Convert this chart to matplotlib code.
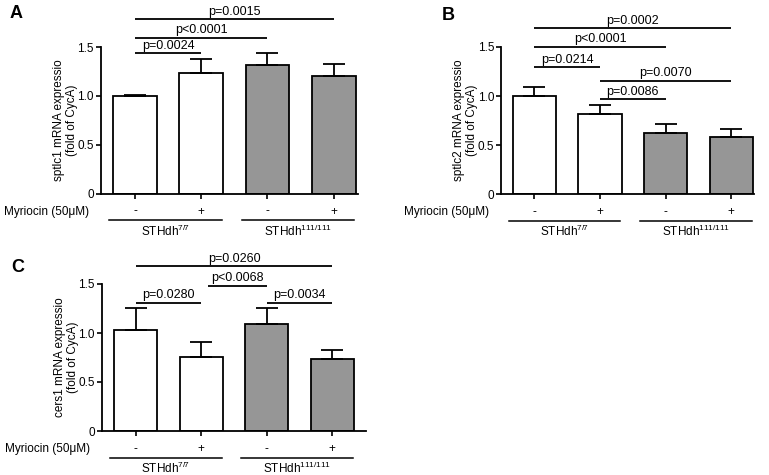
import matplotlib
matplotlib.use("Agg")
import matplotlib.pyplot as plt
import matplotlib.transforms as mtransforms

plt.rcParams['font.family'] = ['Liberation Sans', 'DejaVu Sans']
plt.rcParams['mathtext.fontset'] = 'custom'
plt.rcParams['mathtext.rm'] = 'Liberation Sans'
plt.rcParams['mathtext.it'] = 'Liberation Sans:italic'

# ---------------- data ----------------
myriocin = ['-', '+', '-', '+']
groups = [r'STHdh$^{\mathregular{7/7}}$', r'STHdh$^{\mathregular{111/111}}$']
yticks = [0, 0.5, 1.0, 1.5]
yticklabels = ['0', '0.5', '1.0', '1.5']

a_means = [1.00, 1.236, 1.312, 1.203]
a_err = [0.01, 0.138, 0.129, 0.119]
a_sig = [(0, 1, 1.435, 'p=0.0024'), (0, 2, 1.595, 'p<0.0001'), (0, 3, 1.783, 'p=0.0015')]

b_means = [1.004, 0.821, 0.627, 0.583]
b_err = [0.092, 0.088, 0.086, 0.082]
b_sig = [(0, 1, 1.296, 'p=0.0214'), (0, 2, 1.50, 'p<0.0001'), (0, 3, 1.69, 'p=0.0002'),
         (1, 3, 1.157, 'p=0.0070'), (1, 2, 0.970, 'p=0.0086')]

c_means = [1.027, 0.752, 1.095, 0.732]
c_err = [0.225, 0.156, 0.157, 0.091]
c_sig = [(0, 1, 1.309, 'p=0.0280'), (1.11, 2, 1.483, 'p<0.0068'), (2, 3, 1.309, 'p=0.0034'),
         (0, 3, 1.68, 'p=0.0260')]

colors = ['white', 'white', '#969696', '#969696']

W, H = 769, 475
fig = plt.figure(figsize=(W / 100, H / 100), dpi=100)


def make_panel(left, right, y0, ytop, xlim, means, errs, sig, ylabel, letter, letter_xy):
    ax = fig.add_axes([left / W, 1 - y0 / H, (right - left) / W, (y0 - ytop) / H])
    x = list(range(len(means)))
    ax.bar(x, means, width=0.66, color=colors, edgecolor='black', linewidth=1.3, zorder=2)
    ax.errorbar(x, means, yerr=[[0] * len(errs), errs], fmt='none', ecolor='black',
                elinewidth=1.3, capsize=8, capthick=1.3, zorder=3)
    ax.set_xlim(*xlim)
    ax.set_ylim(0, 1.5)
    ax.set_yticks(yticks)
    ax.set_yticklabels(yticklabels, fontsize=8.5)
    ax.set_xticks(x)
    ax.set_xticklabels([])
    ax.tick_params(axis='both', length=3.5, width=1.2, direction='out', pad=1.5)
    for s in ['top', 'right']:
        ax.spines[s].set_visible(False)
    for s in ['left', 'bottom']:
        ax.spines[s].set_linewidth(1.3)
    ax.set_ylabel(ylabel, fontsize=8.5, labelpad=-0.5, linespacing=1.12)

    # myriocin row
    tr = mtransforms.offset_copy(ax.get_xaxis_transform(), fig=fig, x=0, y=-18, units='dots')
    for xi, m in zip(x, myriocin):
        ax.text(xi, 0, m, transform=tr, ha='center', va='center', fontsize=8.5, clip_on=False)
    tr_lab = mtransforms.offset_copy(ax.transAxes, fig=fig, x=-11.5, y=-18, units='dots')
    ax.text(0, 0, 'Myriocin (50\u03bcM)', transform=tr_lab, ha='right', va='center', fontsize=8.5)

    # group lines
    tr_line = mtransforms.offset_copy(ax.get_xaxis_transform(), fig=fig, x=0, y=-26.5, units='dots')
    tr_g = mtransforms.offset_copy(ax.get_xaxis_transform(), fig=fig, x=0, y=-37.5, units='dots')
    for gi, g in enumerate(groups):
        x1, x2 = 2 * gi - 0.39, 2 * gi + 1 + 0.31
        ax.plot([x1, x2], [0, 0], transform=tr_line, color='black', lw=1.1, clip_on=False)
        ax.text((2 * gi + 2 * gi + 1) / 2 - 0.04, 0, g, transform=tr_g, ha='center',
                va='center', fontsize=8.5, clip_on=False)

    # significance bars
    tr_t = mtransforms.offset_copy(ax.transData, fig=fig, x=0, y=1.5, units='dots')
    for x1, x2, yy, lab in sig:
        ax.plot([x1, x2], [yy, yy], color='black', lw=1.3, clip_on=False, solid_capstyle='butt')
        ax.text((x1 + x2) / 2, yy, lab, transform=tr_t, ha='center', va='bottom',
                fontsize=9, clip_on=False)

    fig.text(letter_xy[0] / W, 1 - letter_xy[1] / H, letter, fontsize=13, fontweight='bold',
             ha='center', va='center')
    return ax


make_panel(100.7, 357.5, 193.5, 47, (-0.517, 3.36), a_means, a_err, a_sig,
           'sptlc1 mRNA expressio\n(fold of CycA)', 'A', (16.5, 14))
make_panel(501, 754.3, 194.3, 47, (-0.508, 3.35), b_means, b_err, b_sig,
           'sptlc2 mRNA expressio\n(fold of CycA)', 'B', (448, 15))
make_panel(101.7, 365.7, 431, 284, (-0.52, 3.51), c_means, c_err, c_sig,
           'cers1 mRNA expressio\n(fold of CycA)', 'C', (18, 267))

fig.savefig('out.png', dpi=100)
